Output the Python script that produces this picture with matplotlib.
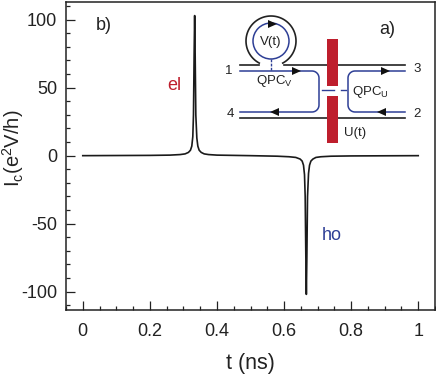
import numpy as np
import matplotlib
matplotlib.use("Agg")
import matplotlib.pyplot as plt
from matplotlib.patches import Circle, Rectangle, Polygon
from matplotlib.ticker import MultipleLocator, FuncFormatter

plt.rcParams['font.family'] = ['Liberation Sans', 'DejaVu Sans']
plt.rcParams['mathtext.fontset'] = 'custom'
plt.rcParams['mathtext.rm'] = 'Liberation Sans'
plt.rcParams['mathtext.default'] = 'regular'
plt.rcParams['axes.unicode_minus'] = False

# valores
t_ns = [0, 0.1, 0.2, 0.26, 0.29, 0.305, 0.315, 0.321, 0.325, 0.328, 0.33, 0.332, 0.3335,
        0.335, 0.337, 0.34, 0.343, 0.347, 0.353, 0.362, 0.375, 0.4, 0.5, 0.58, 0.615,
        0.635, 0.648, 0.654, 0.658, 0.661, 0.663, 0.665, 0.6665, 0.668, 0.67, 0.673,
        0.676, 0.68, 0.686, 0.695, 0.71, 0.74, 0.8, 0.9, 1]
i_c = [0, 0.1, 0.2, 0.4, 0.8, 1.3, 2.4, 4, 7, 14, 30, 75, 103,
       75, 30, 13, 7, 4, 2.4, 1.3, 0.8, 0.4, 0, -0.4, -0.8,
       -1.3, -2.5, -4, -7, -14, -30, -75, -102, -75, -30, -13,
       -7, -4, -2.5, -1.3, -0.8, -0.4, -0.2, -0.1, 0]

x_ticks = [0, 0.2, 0.4, 0.6, 0.8, 1]
y_ticks = [-100, -50, 0, 50, 100]

W, H = 436, 379
fig = plt.figure(figsize=(W / 100, H / 100), dpi=100)
ax = fig.add_axes([66 / W, 1 - 310 / H, 369 / W, 308 / H])

ax.plot(t_ns, i_c, color='#1a1a1a', lw=1.2)
ax.set_xlim(-0.05, 1.05)
ax.set_ylim(-113.5, 113)
ax.set_xticks(x_ticks)
ax.set_yticks(y_ticks)
ax.xaxis.set_major_formatter(FuncFormatter(lambda v, p: f"{v:g}"))
ax.xaxis.set_minor_locator(MultipleLocator(0.05))
ax.yaxis.set_minor_locator(MultipleLocator(10))
ax.tick_params(which='major', direction='in', length=6.5, width=0.9, labelsize=13,
               pad=9, colors='#222222')
ax.tick_params(which='minor', direction='in', length=3.2, width=0.9, colors='#222222')
ax.tick_params(axis='y', which='major', pad=6.5)
for s in ax.spines.values():
    s.set_linewidth(1.1)
    s.set_color('#222222')
ax.set_xlabel("t (ns)", fontsize=15.5, color='#222222')
ax.xaxis.set_label_coords(0.5, -0.138)
ax.set_ylabel("I$_c$(e$^2$V/h)", fontsize=14.5, color='#222222')
ax.yaxis.set_label_coords(-0.108, 0.526)

# esquema a) en pixeles de la imagen
ov = fig.add_axes([0, 0, 1, 1], facecolor='none')
ov.set_xlim(0, W)
ov.set_ylim(H, 0)
ov.axis('off')

blue = '#2e3f96'
red = '#be1e2d'
black = '#222222'

ov.text(96, 26, "b)", fontsize=13, color=black, va='center')
ov.text(379, 30, "a)", fontsize=13, color=black, va='center')
ov.text(167, 86, "el", fontsize=13, color=red, va='center')
ov.text(322, 236, "ho", fontsize=13, color=blue, va='center')

ov.plot([240, 259], [65, 65], color=black, lw=1.2)
ov.plot([284, 405], [65, 65], color=black, lw=1.2)
ov.plot([240, 405], [118, 118], color=black, lw=1.2)
th = np.radians(np.linspace(-62, 242, 100))
ov.plot(271 + 25 * np.cos(th), 41 - 25 * np.sin(th), color=black, lw=1.2)
ov.add_patch(Circle((271, 41), 18, fill=False, ec=blue, lw=1.1))
ov.plot([271, 271], [59, 71], color=blue, lw=1.0, ls=(0, (2, 1)))

r = 7
arc = np.radians(np.linspace(0, 90, 12))
xl = np.r_[240, 319 - r + r * np.sin(arc), 319 - r + r * np.cos(arc), 240]
yl = np.r_[71, 71 + r - r * np.cos(arc), 112 - r + r * np.sin(arc), 112]
ov.plot(xl, yl, color=blue, lw=1.1)
xr = np.r_[405, 348 + r - r * np.sin(arc), 348 + r - r * np.cos(arc), 405]
ov.plot(xr, yl, color=blue, lw=1.1)
ov.plot([322, 334], [90, 90], color=blue, lw=1.0)
ov.plot([341, 346], [90, 90], color=blue, lw=1.0)

ov.add_patch(Rectangle((327, 39), 11, 47, fc=red, ec='none', zorder=3))
ov.add_patch(Rectangle((327, 96), 11, 47, fc=red, ec='none', zorder=3))

for ax_x, ax_y, d in [(296, 71, 1), (385, 71, 1), (275, 112, -1), (382, 112, -1), (272, 24, 1)]:
    ov.add_patch(Polygon([(ax_x - 4 * d, ax_y - 4), (ax_x + 5 * d, ax_y), (ax_x - 4 * d, ax_y + 4)],
                         fc='#111111', ec='none', zorder=4))

fs = 9.5
ov.text(271, 42, "V(t)", fontsize=fs, color=black, ha='center', va='center')
ov.text(256, 81, "QPC$_V$", fontsize=fs, color=black, va='center')
ov.text(352, 92, "QPC$_U$", fontsize=fs, color=black, va='center')
ov.text(344, 133, "U(t)", fontsize=fs, color=black, va='center')
ov.text(232, 71, "1", fontsize=fs, color=black, ha='right', va='center')
ov.text(234, 114, "4", fontsize=fs, color=black, ha='right', va='center')
ov.text(413, 69, "3", fontsize=fs, color=black, va='center')
ov.text(413, 114, "2", fontsize=fs, color=black, va='center')

fig.savefig("out.png", dpi=100)
